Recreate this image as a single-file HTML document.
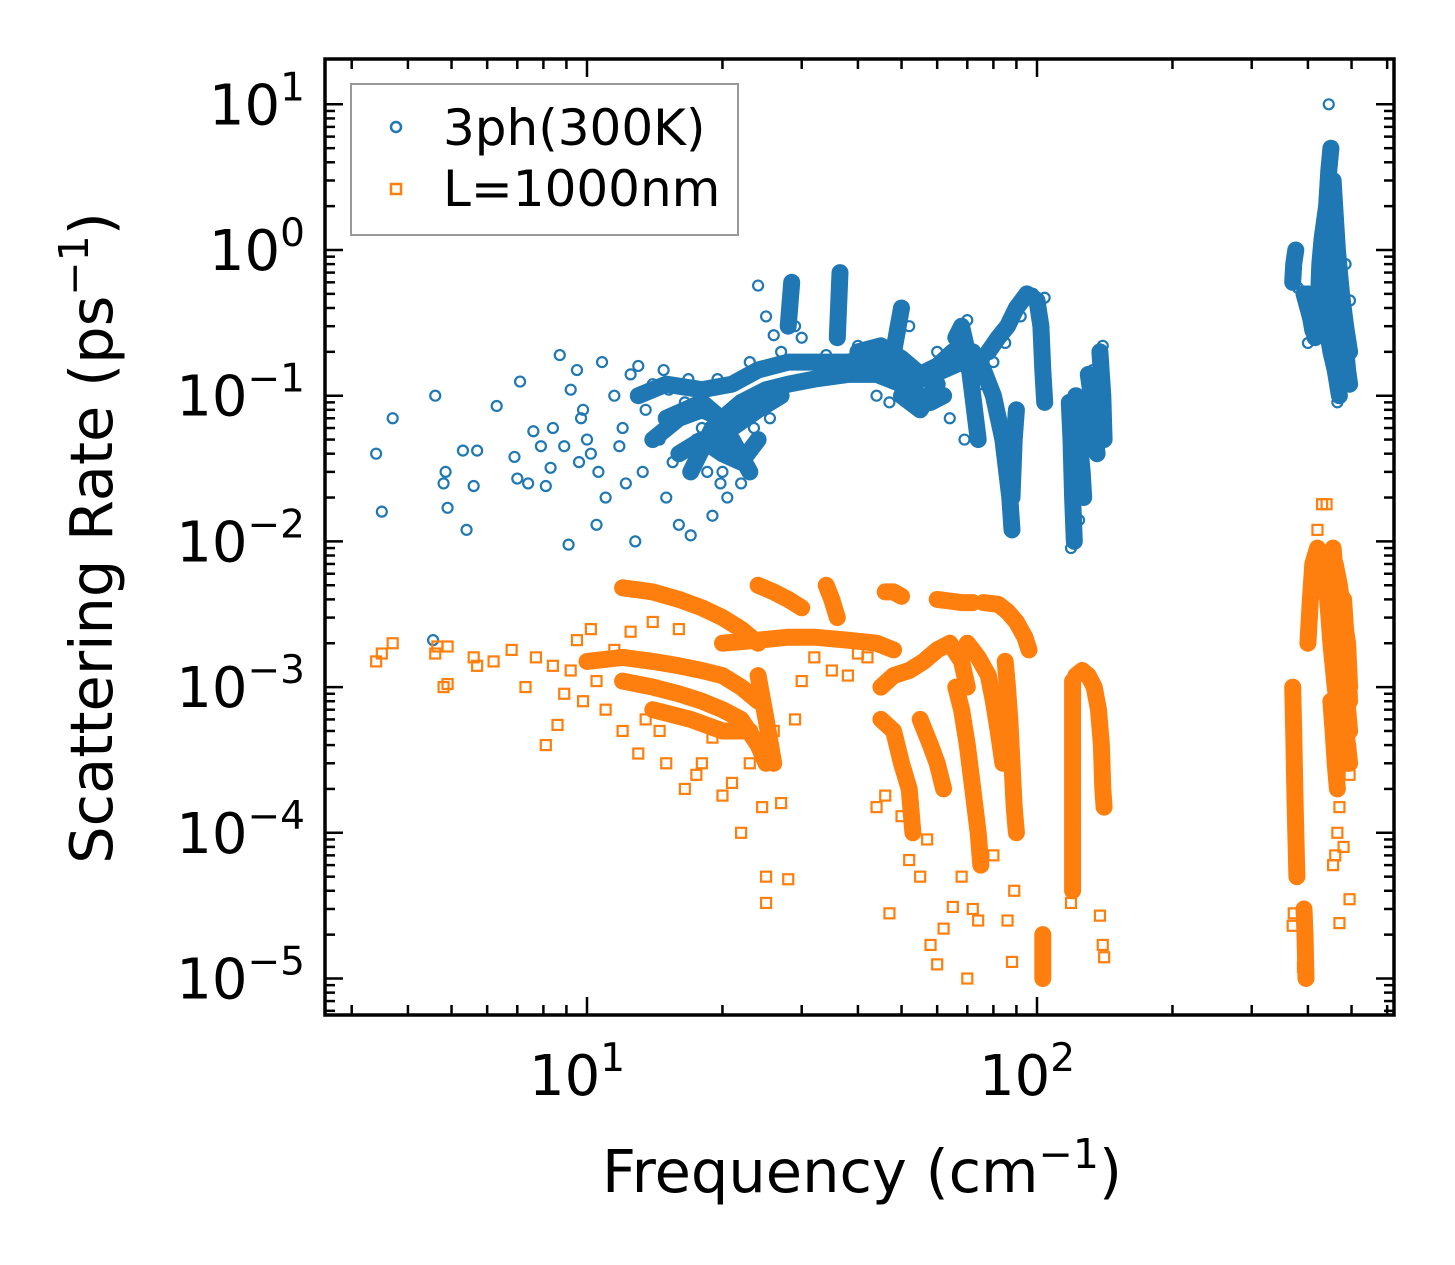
<!DOCTYPE html>
<html><head><meta charset="utf-8"><style>
html,body{margin:0;padding:0;background:#fff;}
svg{display:block;font-family:"DejaVu Sans","Liberation Sans",sans-serif;}
</style></head><body>
<svg id="chart" width="1455" height="1265" viewBox="0 0 1455 1265" xmlns="http://www.w3.org/2000/svg">
<g id="bands"></g>
<g id="marks"></g>
<g id="axes"></g>
<text transform="translate(112,538) rotate(-90)" text-anchor="middle" font-size="59" fill="#000">Scattering Rate (ps<tspan dy="-24" font-size="41">−1</tspan><tspan dy="24">)</tspan></text>
<text x="862" y="1192" text-anchor="middle" font-size="59" fill="#000">Frequency (cm<tspan dy="-24" font-size="41">−1</tspan><tspan dy="24">)</tspan></text>
<g>
<rect x="351" y="84" width="387" height="151" fill="#fff" stroke="#999" stroke-width="2"/>
<circle cx="396" cy="127" r="5" fill="none" stroke="#1f77b4" stroke-width="2.5"/>
<text x="443" y="145" font-size="50">3ph(300K)</text>
<rect x="391" y="184" width="10" height="10" fill="none" stroke="#ff7f0e" stroke-width="2.5"/>
<text x="443" y="206" font-size="50">L=1000nm</text>
</g>
</svg>
<script>
const blueBands=[
[[13,0.1],[15,0.12],[18,0.11],[21,0.12],[24,0.15],[28,0.17],[32,0.17],[38,0.17],[44,0.18],[50,0.15],[56,0.13],[62,0.15],[68,0.17],[72,0.15]],
[[14,0.05],[16,0.07],[18,0.08],[20,0.07],[22,0.09],[25,0.11],[28,0.12],[32,0.13],[38,0.14],[44,0.14],[50,0.12],[55,0.1],[58,0.09],[62,0.1]],
[[16,0.04],[18,0.05],[20,0.04],[22,0.035],[24,0.05]],
[[15,0.07],[18,0.09],[21,0.06],[24,0.08],[27,0.1]],
[[17,0.03],[19,0.06],[21,0.05],[23,0.03]],
[[40,0.2],[45,0.22],[50,0.18],[55,0.14],[60,0.16],[65,0.2]],
[[50,0.1],[55,0.08],[60,0.12]],
[[28,0.3],[28.5,0.6]],[[36,0.25],[36.5,0.7]],[[48,0.2],[50,0.4]],
[[66,0.25],[68,0.3],[70,0.2],[72,0.1],[74,0.05]],
[[72,0.2],[76,0.15],[80,0.1],[84,0.05],[87,0.02],[88,0.012]],
[[78,0.2],[82,0.25],[86,0.3],[90,0.4],[95,0.5],[100,0.45],[102,0.3],[103,0.15],[104,0.09]],
[[88,0.02],[89,0.05],[90,0.08]],
[[118,0.09],[119,0.05],[120,0.02],[121,0.01]],
[[122,0.1],[124,0.05],[126,0.03],[127,0.02]],
[[130,0.14],[132,0.1],[134,0.06],[136,0.04]],
[[138,0.2],[140,0.1],[141,0.05]],
[[370,0.6],[372,0.8],[376,1.0]],
[[392,0.5],[400,0.4],[410,0.3],[415,0.25]],
[[400,0.5],[405,0.35],[410,0.28]],
[[420,0.3],[425,0.8],[430,1.2],[440,2.0],[445,3.5],[450,5]],
[[430,0.5],[440,0.3],[450,0.2],[460,0.15],[470,0.1]],
[[460,0.8],[470,0.5],[480,0.3],[490,0.15],[495,0.12]],
[[440,1.5],[450,1.0],[460,0.6],[470,0.4],[480,0.2]],
[[445,2],[455,0.8],[465,0.3],[475,0.15]],
[[455,3],[465,1],[475,0.5],[485,0.3],[495,0.2]]
];
const orangeBands=[
[[10,0.0015],[12,0.0016],[14,0.0015],[16,0.0014],[18,0.0013],[20,0.0012],[22,0.001],[24,0.0008]],
[[12,0.0011],[14,0.001],[16,0.0009],[18,0.0008],[20,0.0007],[22,0.0006],[24,0.0004],[25,0.0003]],
[[14,0.0007],[17,0.0006],[20,0.0005],[23,0.0005]],
[[24,0.0012],[25,0.0006],[26,0.0003]],
[[12,0.0048],[14,0.0045],[16,0.004],[18,0.0035],[20,0.003],[22,0.0025],[24,0.002]],
[[24,0.005],[26,0.0045],[28,0.004],[30,0.0035]],
[[20,0.002],[24,0.0021],[28,0.0022],[32,0.0022],[38,0.0021],[44,0.002],[48,0.0018]],
[[34,0.005],[35,0.004],[36,0.003]],
[[46,0.0045],[48,0.0045],[50,0.0042]],
[[45,0.001],[48,0.0012],[52,0.0013],[56,0.0015],[60,0.0018],[64,0.002],[68,0.0015],[70,0.001]],
[[45,0.0006],[48,0.0005],[50,0.0003],[52,0.0002],[53,0.0001]],
[[55,0.0006],[58,0.0004],[60,0.0003],[62,0.0002]],
[[60,0.004],[64,0.0039],[68,0.0038],[72,0.0038]],
[[66,0.001],[68,0.0007],[70,0.0004],[72,0.0002],[74,0.0001],[75,0.00006]],
[[70,0.002],[74,0.0016],[78,0.0012],[80,0.0008],[82,0.0005],[84,0.0003]],
[[76,0.0038],[82,0.0037],[86,0.0033],[90,0.0028],[94,0.0022],[96,0.0018]],
[[85,0.0015],[86,0.001],[87,0.0006],[88,0.0003],[89,0.00015],[90,0.0001]],
[[103,0.00002],[103,0.00001]],
[[120,0.0011],[120,0.0004],[120,0.0001],[120,0.00004]],
[[122,0.0012],[126,0.0013],[130,0.0012],[134,0.001],[137,0.0007],[139,0.0004],[140,0.0002],[141,0.00015]],
[[370,0.001],[372,0.0005],[374,0.0002],[376,0.0001],[378,0.00005]],
[[392,0.00003],[394,0.00002],[396,0.00001]],
[[400,0.002],[405,0.004],[410,0.007],[420,0.009],[430,0.008],[440,0.006],[450,0.004],[460,0.003]],
[[440,0.005],[450,0.002],[460,0.001],[470,0.0006],[480,0.0004],[490,0.0003]],
[[460,0.007],[470,0.005],[480,0.003],[490,0.002],[495,0.001]],
[[455,0.009],[465,0.004],[475,0.002],[485,0.001],[495,0.0005]],
[[480,0.004],[490,0.0015],[495,0.0008]],
[[470,0.001],[480,0.0006],[490,0.0004],[495,0.0003]],
[[450,0.0008],[455,0.0005],[460,0.0003],[465,0.0002]]
];
const bluePoints=[[3.4,0.04],[3.5,0.016],[3.7,0.07],[4.6,0.1],[4.55,0.0021],[4.8,0.025],[4.85,0.03],[4.9,0.017],[5.3,0.042],[5.4,0.012],[5.6,0.024],[5.7,0.042],[6.3,0.085],[6.9,0.038],[7.0,0.027],[7.1,0.125],[7.4,0.025],[7.6,0.057],[7.9,0.045],[8.1,0.024],[8.3,0.032],[8.4,0.06],[8.7,0.19],[8.9,0.045],[9.1,0.0095],[9.2,0.11],[9.5,0.15],[9.7,0.07],[9.8,0.08],[10,0.05],[10.2,0.04],[10.5,0.013],[10.8,0.17],[11,0.02],[11.5,0.1],[12,0.06],[12.5,0.14],[12.8,0.01],[13.3,0.03],[13.5,0.08],[14,0.12],[14.5,0.05],[15,0.02],[15.5,0.035],[16,0.013],[16.5,0.09],[17,0.011],[17.5,0.05],[18,0.06],[19,0.015],[19.5,0.13],[20,0.03],[20.5,0.02],[21,0.08],[22,0.025],[23,0.17],[24,0.57],[25,0.35],[26,0.26],[27,0.2],[29,0.3],[9.6,0.035],[10.6,0.03],[11.8,0.045],[12.2,0.025],[13,0.16],[14.8,0.15],[15.2,0.11],[16.8,0.13],[18.5,0.03],[19.8,0.025],[21.5,0.12],[23.5,0.06],[25.5,0.07],[30,0.25],[34,0.19],[40,0.22],[44,0.1],[47,0.09],[52,0.3],[56,0.09],[60,0.2],[64,0.07],[69,0.05],[70,0.33],[75,0.12],[80,0.17],[85,0.23],[92,0.35],[98,0.5],[104,0.47],[119,0.009],[121,0.012],[124,0.014],[133,0.15],[140,0.22],[380,0.55],[400,0.23],[410,0.45],[425,1.1],[445,10],[447,5],[455,1.5],[458,0.5],[465,0.09],[470,0.6],[478,0.25],[485,0.8],[490,0.12],[496,0.45]];
const orangePoints=[[3.4,0.0015],[3.5,0.0017],[3.7,0.002],[4.6,0.0017],[4.65,0.0019],[4.8,0.001],[4.9,0.00105],[4.9,0.0019],[5.6,0.0016],[5.7,0.0014],[6.2,0.0015],[6.8,0.0018],[7.3,0.001],[7.7,0.0016],[8.1,0.0004],[8.4,0.0014],[8.6,0.00055],[8.9,0.0009],[9.2,0.0013],[9.5,0.0021],[9.8,0.0008],[10.2,0.0025],[10.5,0.0011],[11,0.0007],[11.5,0.0018],[12,0.0005],[12.5,0.0024],[13,0.00035],[13.5,0.0006],[14,0.0028],[14.5,0.0005],[15,0.0003],[16,0.0025],[16.5,0.0002],[17.5,0.00025],[18,0.0003],[19,0.00045],[20,0.00018],[21,0.00022],[22,0.0001],[23,0.0003],[24.5,0.00015],[25,0.00005],[25,0.000033],[26,0.0005],[27,0.00016],[28,0.000048],[29,0.0006],[30,0.0011],[32,0.0016],[35,0.0013],[38,0.0012],[40,0.0017],[42,0.0016],[44,0.00015],[46,0.00018],[47,0.000028],[50,0.00013],[52,0.000065],[55,0.00005],[57,0.00009],[58,0.000017],[60,0.0000125],[62,0.000022],[65,0.000031],[68,0.00005],[70,0.00001],[72,0.00003],[74,0.000025],[80,0.00007],[86,0.000025],[88,0.000013],[89,0.00004],[102,0.000015],[104,0.000018],[119,0.000033],[120,0.0001],[138,0.000027],[140,0.000017],[141,0.000014],[370,0.000023],[372,0.000028],[390,0.000012],[395,0.000015],[430,0.018],[440,0.018],[420,0.012],[470,0.00015],[465,0.0001],[455,0.00006],[460,0.00007],[470,0.000024],[495,0.000035],[480,0.00008],[495,0.00025],[490,0.0006]];

const NS='http://www.w3.org/2000/svg';
const L=325,R=1394,T=59,B=1015;
function X(f){return 587+450*(Math.log10(f)-1);}
function Y(r){return 250-145.7*Math.log10(r);}
function mk(tag,at,parent){const e=document.createElementNS(NS,tag);for(const k in at)e.setAttribute(k,at[k]);parent.appendChild(e);return e;}
const bandsG=document.getElementById('bands'),marksG=document.getElementById('marks'),axG=document.getElementById('axes');
function drawBands(bands,color,name){
  bands.forEach(b=>{
    const d=b.map((p,i)=>(i?'L':'M')+X(p[0]).toFixed(1)+' '+Y(p[1]).toFixed(1)).join(' ');
    const e=mk('path',{d:d,fill:'none',stroke:color,'stroke-width':17,'stroke-linecap':'round','stroke-linejoin':'round'},bandsG);
    
    
  });
}
drawBands(blueBands,'#1f77b4','blue-dense-region');
drawBands(orangeBands,'#ff7f0e','orange-dense-region');
bluePoints.forEach(p=>{
  const e=mk('circle',{cx:X(p[0]),cy:Y(p[1]),r:5,fill:'none',stroke:'#1f77b4','stroke-width':2.2},marksG);
  
  
});
orangePoints.forEach(p=>{
  const e=mk('rect',{x:X(p[0])-5,y:Y(p[1])-5,width:10,height:10,fill:'none',stroke:'#ff7f0e','stroke-width':2.2},marksG);
  
  
});
const fr=mk('rect',{x:L,y:T,width:R-L,height:B-T,fill:'none',stroke:'#000','stroke-width':3.5},axG);


const xMajors=[10,100];
const xLabels=['1','2'];
for(let dec=0;dec<3;dec++){for(let m=1;m<10;m++){
  const f=m*Math.pow(10,dec);const x=X(f);if(x<L+2||x>R-2)continue;
  const len=m===1?18:10;
  mk('line',{x1:x,y1:B,x2:x,y2:B-len,stroke:'#000','stroke-width':2.5},axG);
  mk('line',{x1:x,y1:T,x2:x,y2:T+len,stroke:'#000','stroke-width':2.5},axG);
}}
xMajors.forEach((f,i)=>{
  const t=mk('text',{x:X(f)-10,y:1095,'text-anchor':'middle','font-size':56},axG);
  
  
  t.innerHTML='10<tspan dy="-24" font-size="39">'+xLabels[i]+'</tspan>';
});
const yExps=[1,0,-1,-2,-3,-4,-5];
const yLabels=['1','0','−1','−2','−3','−4','−5'];
for(let e=-6;e<=1;e++){for(let m=1;m<10;m++){
  const y=Y(m*Math.pow(10,e));if(y<T+2||y>B-2)continue;
  const len=m===1?18:10;
  mk('line',{x1:L,y1:y,x2:L+len,y2:y,stroke:'#000','stroke-width':2.5},axG);
  mk('line',{x1:R,y1:y,x2:R-len,y2:y,stroke:'#000','stroke-width':2.5},axG);
}}
yExps.forEach((e,i)=>{
  const t=mk('text',{x:305,y:Y(Math.pow(10,e))+20,'text-anchor':'end','font-size':56},axG);
  
  
  t.innerHTML='10<tspan dy="-24" font-size="39">'+yLabels[i]+'</tspan>';
});
</script>
</body></html>
